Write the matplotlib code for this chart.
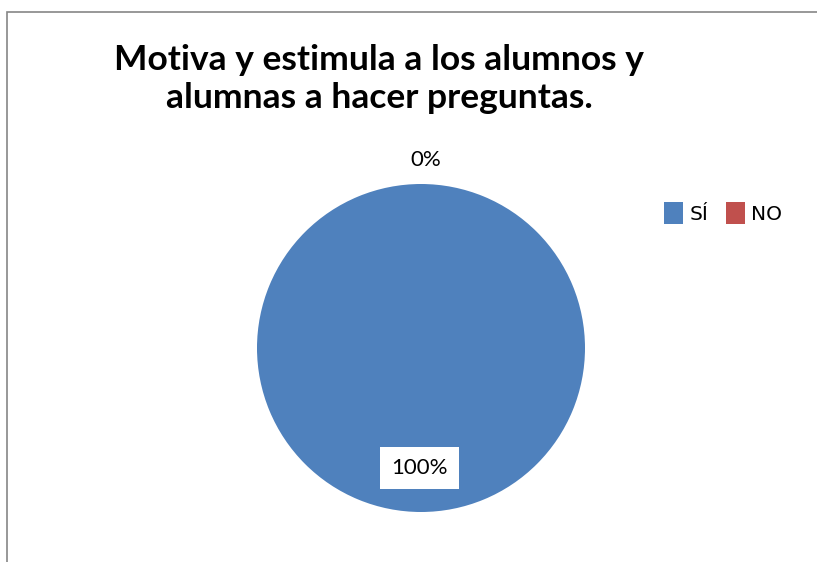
import matplotlib
matplotlib.use("Agg")
import matplotlib.pyplot as plt
from matplotlib.patches import Rectangle
import numpy as np

categories = ["SÍ", "NO"]
values = [100, 0]
pct_labels = ["100%", "0%"]
colors = ["#4F81BD", "#C0504D"]
title = "Motiva y estimula a los alumnos y\nalumnas a hacer preguntas."

W, H = 817, 562
fig = plt.figure(figsize=(W / 100, H / 100), dpi=100)
fig.patch.set_facecolor("white")

# chart border (gray, top and left visible)
fig.add_artist(Rectangle((7 / W, -0.05), 1.2, 1 - 12 / H + 0.05, transform=fig.transFigure,
                         fill=False, edgecolor="#868686", linewidth=1.2))

cx, cy, r = 421, 348, 164
ax = fig.add_axes([(cx - r) / W, 1 - (cy + r) / H, 2 * r / W, 2 * r / H])
wedges, _ = ax.pie(values, colors=colors, startangle=90, counterclock=False,
                   radius=1, wedgeprops=dict(linewidth=0))
ax.set_xlim(-1, 1)
ax.set_ylim(-1, 1)
ax.set_aspect("equal")
ax.axis("off")

font = "Lato"
# data labels
ax.text(-0.01, -0.73, pct_labels[0], ha="center", va="center", fontsize=16, family=font,
        bbox=dict(facecolor="white", edgecolor="none", pad=8))
ax.text(0.03, 1.146, pct_labels[1], ha="center", va="center", fontsize=16, family=font)

fig.text(379 / W, 1 - 79 / H, title, ha="center", va="center", fontsize=25.5,
         fontweight="bold", family=font, linespacing=1.2)

leg = fig.legend(wedges, categories, loc="center left", bbox_to_anchor=(650 / W, 1 - 213 / H),
                 ncol=2, frameon=False, prop=dict(family="DejaVu Sans", size=14.5),
                 handlelength=0.95, handleheight=1.35, handletextpad=0.3, columnspacing=0.9,
                 borderpad=0.2)

fig.savefig("out.png", dpi=100)
